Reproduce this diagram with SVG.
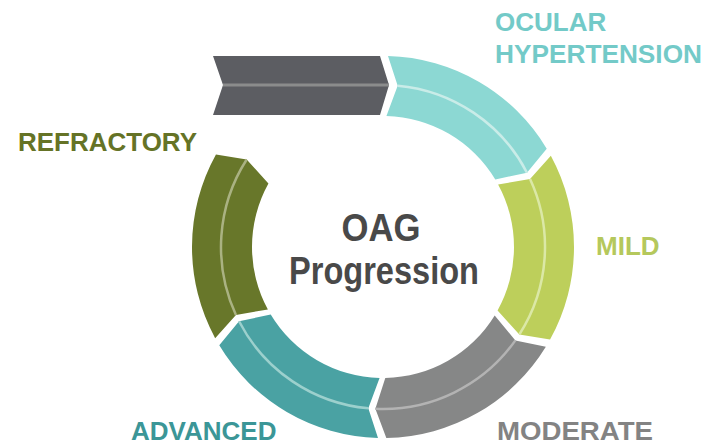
<svg xmlns="http://www.w3.org/2000/svg" width="706" height="447" viewBox="0 0 706 447">
<style>
.lbl{font-family:"Liberation Sans",Arial,sans-serif;font-weight:bold;font-size:26px}
.ctr{font-family:"Liberation Sans",Arial,sans-serif;font-weight:bold;font-size:39px;fill:#494949}
.mid{fill:none;stroke-width:2.5}
</style>
<rect width="706" height="447" fill="#ffffff"/>
<g id="start-arrow">
<polygon points="213,56 380,56 389,85 380,115 213,115 223,85" fill="#5c5d62"/>
<line x1="223" y1="85" x2="389" y2="85" stroke="#8b8c8c" stroke-width="3"/>
</g>
<g id="ocular-hypertension">
<path d="M388.00,56.07 A191,191 0 0 1 546.72,148.63 L526.96,172.70 L495.29,179.53 A131,131 0 0 0 386.43,116.04 L397.68,85.67 Z" fill="#8cd8d3"/>
<path class="mid" d="M397.68,85.67 A162,162 0 0 1 526.96,172.70" stroke="#c9ece8"/>
<text class="lbl" x="495" y="31" fill="#73cac8">OCULAR</text>
<text class="lbl" x="495" y="62.5" fill="#73cac8" textLength="207" lengthAdjust="spacingAndGlyphs">HYPERTENSION</text>
</g>
<g id="mild">
<path d="M550.85,155.86 A191,191 0 0 1 550.05,339.60 L519.32,334.52 L497.57,310.51 A131,131 0 0 0 498.12,184.49 L530.06,179.05 Z" fill="#bdcf5b"/>
<path class="mid" d="M530.06,179.05 A162,162 0 0 1 519.32,334.52" stroke="#dbe8a6"/>
<text class="lbl" x="596" y="255" fill="#b5c85c">MILD</text>
</g>
<g id="moderate">
<path d="M545.85,346.80 A191,191 0 0 1 386.33,437.97 L375.37,408.82 L385.29,377.98 A131,131 0 0 0 494.70,315.45 L515.38,340.38 Z" fill="#868787"/>
<path class="mid" d="M515.38,340.38 A162,162 0 0 1 375.37,408.82" stroke="#b3b3b3"/>
<text class="lbl" x="497" y="440" fill="#838383" textLength="156" lengthAdjust="spacingAndGlyphs">MODERATE</text>
</g>
<g id="advanced">
<path d="M378.00,437.93 A191,191 0 0 1 219.28,345.37 L239.04,321.30 L270.71,314.47 A131,131 0 0 0 379.57,377.96 L368.32,408.33 Z" fill="#4aa2a3"/>
<path class="mid" d="M368.32,408.33 A162,162 0 0 1 239.04,321.30" stroke="#9cd0cd"/>
<text class="lbl" x="131" y="440" fill="#3b9697">ADVANCED</text>
</g>
<g id="refractory">
<path d="M215.15,338.14 A191,191 0 0 1 215.95,154.40 L246.68,159.48 L268.43,183.49 A131,131 0 0 0 267.88,309.51 L235.94,314.95 Z" fill="#68772a"/>
<path class="mid" d="M235.94,314.95 A162,162 0 0 1 246.68,159.48" stroke="#aab282"/>
<text class="lbl" x="18" y="151" fill="#657326" textLength="179" lengthAdjust="spacingAndGlyphs">REFRACTORY</text>
</g>
<g id="center">
<text class="ctr" x="381" y="241" text-anchor="middle" textLength="79" lengthAdjust="spacingAndGlyphs">OAG</text>
<text class="ctr" x="384" y="284" text-anchor="middle" textLength="190" lengthAdjust="spacingAndGlyphs">Progression</text>
</g>
</svg>
